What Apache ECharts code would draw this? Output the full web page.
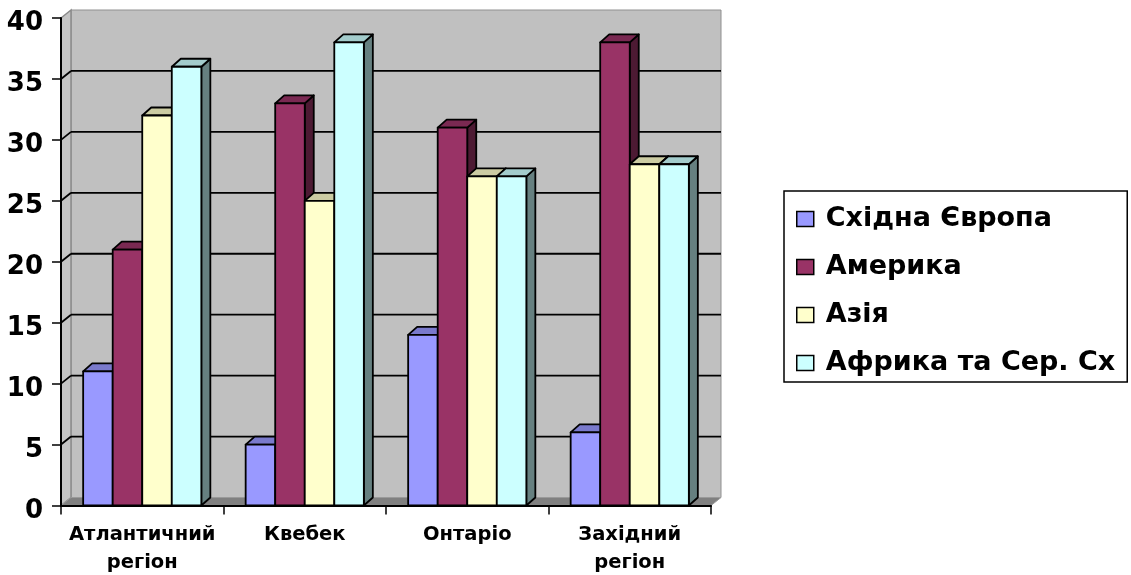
<!DOCTYPE html>
<html>
<head>
<meta charset="utf-8">
<script src="https://cdn.jsdelivr.net/npm/echarts@6/dist/echarts.min.js"></script>
<style>
  html, body { margin: 0; padding: 0; background: #ffffff; }
  #chart { width: 1131px; height: 575px; }
</style>
</head>
<body>
<div id="chart"></div>
<script>
// Regions and immigrant-origin shares per region
const CATEGORIES = ['Атлантичний\nрегіон', 'Квебек', 'Онтаріо', 'Західний\nрегіон'];
const SERIES_NAMES = ['Східна Європа', 'Америка', 'Азія', 'Африка та Сер. Сх'];
const EASTERN_EUROPE = [11, 5, 14, 6];
const AMERICA = [21, 33, 31, 38];
const ASIA = [32, 25, 27, 28];
const AFRICA_MIDEAST = [36, 38, 27, 28];
const Y_TICKS = [0, 5, 10, 15, 20, 25, 30, 35, 40];

const SERIES_VALUES = [EASTERN_EUROPE, AMERICA, ASIA, AFRICA_MIDEAST];
// front / top / side face colours for each series
const FACE_COLORS = [
  ['#9999FF', '#7A7ACC', '#4D4D80'],
  ['#993366', '#7A2952', '#4D1A33'],
  ['#FFFFCC', '#CCCCA3', '#808066'],
  ['#CCFFFF', '#A3CCCC', '#668080']
];

const Y_MIN = Y_TICKS[0];
const Y_MAX = Y_TICKS[Y_TICKS.length - 1];
const WALL_DX = 10, WALL_DY = -8;   // offset of back wall from the front plane
const BAR_DX = 9, BAR_DY = -8;      // depth of each column
const GAP_WIDTH = 1.5;              // gap between clusters, in bar widths
const FONT = 'DejaVu Sans';

// Back wall, side wall, floor and grid lines in pseudo-3D
function renderFrame(params, api) {
  const cs = params.coordSys;
  const v = api.value(1);
  const y = api.coord([0, v])[1];
  const left = cs.x, right = cs.x + cs.width;
  const top = cs.y, bottom = cs.y + cs.height;
  const children = [];
  if (params.dataIndex === 0) {
    children.push({
      type: 'rect',
      shape: { x: left + WALL_DX, y: top + WALL_DY, width: cs.width, height: cs.height },
      style: { fill: '#C0C0C0', stroke: '#909090', lineWidth: 1 }
    });
    children.push({
      type: 'polygon',
      shape: { points: [[left, top], [left + WALL_DX, top + WALL_DY],
                        [left + WALL_DX, bottom + WALL_DY], [left, bottom]] },
      style: { fill: '#C4C4C4', stroke: '#8A8A8A', lineWidth: 1.5 }
    });
    children.push({
      type: 'polygon',
      shape: { points: [[left, bottom], [right, bottom],
                        [right + WALL_DX, bottom + WALL_DY], [left + WALL_DX, bottom + WALL_DY]] },
      style: { fill: '#808080', stroke: '#9A9A9A', lineWidth: 1 }
    });
  }
  if (v > Y_MIN && v < Y_MAX) {
    children.push({
      type: 'line',
      shape: { x1: left + WALL_DX, y1: y + WALL_DY, x2: right + WALL_DX, y2: y + WALL_DY },
      style: { stroke: '#000', lineWidth: 1.8 }
    });
    children.push({
      type: 'line',
      shape: { x1: left, y1: y, x2: left + WALL_DX, y2: y + WALL_DY },
      style: { stroke: '#000', lineWidth: 1.8 }
    });
  }
  return { type: 'group', children: children };
}

// One 3D column: front face, top face and right side face
function makeBarRenderer(order) {
  const colors = FACE_COLORS[order];
  return function (params, api) {
    const cat = api.value(0);
    const val = api.value(1);
    const base = api.coord([cat, 0]);
    const tip = api.coord([cat, val]);
    const band = api.size([1, 0])[0];
    const barW = band / (SERIES_NAMES.length + GAP_WIDTH);
    const x0 = base[0] - band / 2 + barW * GAP_WIDTH / 2 + order * barW;
    const x1 = x0 + barW;
    const ty = tip[1], by = base[1];
    const edge = { stroke: '#000', lineWidth: 1.8, lineJoin: 'round' };
    return {
      type: 'group',
      children: [
        {
          type: 'polygon',
          shape: { points: [[x1, ty], [x1 + BAR_DX, ty + BAR_DY], [x1 + BAR_DX, by + BAR_DY], [x1, by]] },
          style: Object.assign({ fill: colors[2] }, edge)
        },
        {
          type: 'polygon',
          shape: { points: [[x0, ty], [x1, ty], [x1 + BAR_DX, ty + BAR_DY], [x0 + BAR_DX, ty + BAR_DY]] },
          style: Object.assign({ fill: colors[1] }, edge)
        },
        {
          type: 'rect',
          shape: { x: x0, y: ty, width: barW, height: by - ty },
          style: Object.assign({ fill: colors[0] }, edge)
        }
      ]
    };
  };
}

const chart = echarts.init(document.getElementById('chart'), null, { renderer: 'canvas' });

const series = [{
  name: 'frame',
  type: 'custom',
  renderItem: renderFrame,
  data: Y_TICKS.map(v => [0, v]),
  clip: false,
  silent: true,
  z: 1
}];
SERIES_NAMES.forEach((name, i) => {
  series.push({
    name: name,
    type: 'custom',
    renderItem: makeBarRenderer(i),
    data: SERIES_VALUES[i].map((v, c) => [c, v]),
    itemStyle: { color: FACE_COLORS[i][0], borderColor: '#000', borderWidth: 1.5 },
    clip: false,
    z: 2
  });
});

chart.setOption({
  animation: false,
  backgroundColor: '#ffffff',
  grid: {
    left: 61, top: 18, width: 650, height: 487.5,
    containLabel: false,
    outerBoundsMode: 'none'
  },
  xAxis: {
    type: 'category',
    data: CATEGORIES,
    boundaryGap: true,
    z: 10,
    axisLine: { show: true, lineStyle: { color: '#000', width: 2 } },
    axisTick: { show: true, length: 9, lineStyle: { color: '#000', width: 1.5 } },
    axisLabel: {
      interval: 0,
      margin: 15,
      color: '#000',
      fontFamily: FONT,
      fontWeight: 'bold',
      fontSize: 19.5,
      lineHeight: 28
    },
    splitLine: { show: false }
  },
  yAxis: {
    type: 'value',
    min: Y_MIN,
    max: Y_MAX,
    interval: 5,
    z: 10,
    axisLine: { show: true, lineStyle: { color: '#000', width: 2 } },
    axisTick: { show: true, length: 9, lineStyle: { color: '#000', width: 1.5 } },
    axisLabel: {
      margin: 18,
      color: '#000',
      fontFamily: FONT,
      fontWeight: 'bold',
      fontSize: 26,
      verticalAlign: 'top',
      lineHeight: 11
    },
    splitLine: { show: false }
  },
  legend: {
    data: SERIES_NAMES,
    orient: 'vertical',
    left: 784,
    top: 191,
    padding: [13, 12, 4, 12],
    itemGap: 18,
    itemWidth: 17,
    itemHeight: 15,
    icon: 'rect',
    borderColor: '#000',
    borderWidth: 1.5,
    borderRadius: 0,
    itemStyle: { borderColor: '#000', borderWidth: 1.5 },
    textStyle: {
      color: '#000',
      fontFamily: FONT,
      fontWeight: 'bold',
      fontSize: 27,
      lineHeight: 30,
      padding: [0, 0, 0, 7]
    },
    selectedMode: false
  },
  series: series
});
</script>
</body>
</html>
